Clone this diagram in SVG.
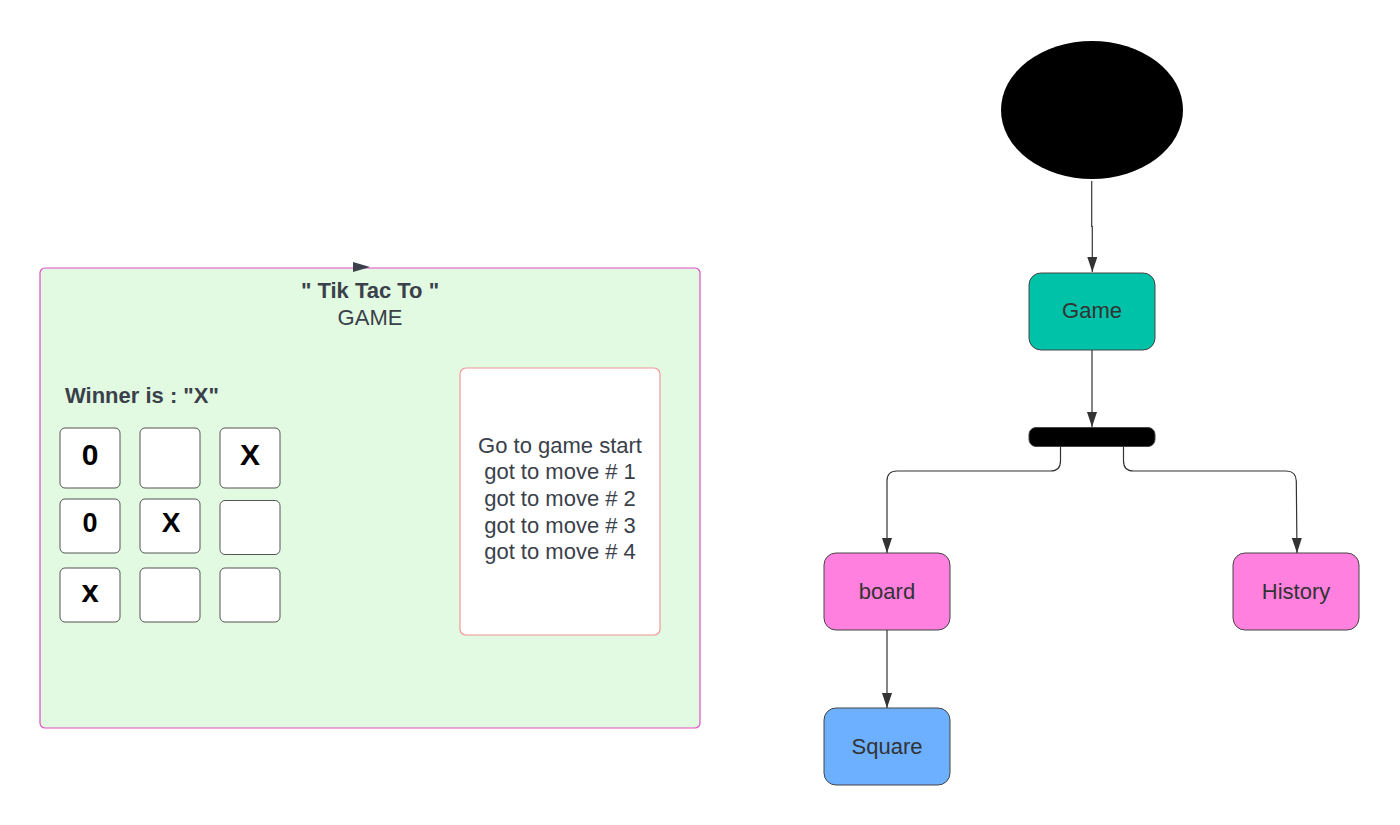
<svg xmlns="http://www.w3.org/2000/svg" width="1400" height="825" viewBox="0 0 1400 825">
<defs>
<style>
text{font-family:"Liberation Sans",Arial,sans-serif}
.node rect{stroke:#444;stroke-width:1}
.lbl{font-size:22px;fill:#333;text-anchor:middle}
.cell{fill:#fff;stroke:#555;stroke-width:1}
.glyph{font-weight:bold;fill:#000;text-anchor:middle}
.conn{fill:none;stroke:#333;stroke-width:1.2}
.pt{fill:#3a414a}
</style>
<marker id="arr" markerWidth="15" markerHeight="10" refX="15" refY="5" viewBox="0 0 15 10" markerUnits="userSpaceOnUse" orient="auto">
<path d="M0,0 L15,5 L0,10 Z" fill="#333"/>
</marker>
</defs>
<rect width="1400" height="825" fill="#fff"/>

<g id="game-panel">
<rect x="40" y="268" width="660" height="460" rx="5" fill="#e2f9e2" stroke="#e04fc6" stroke-width="1.2"/>
<path d="M353,262 L370,267 L353,272 Z" fill="#3a414a"/>
<text class="pt" x="370" y="298" font-size="22" font-weight="bold" text-anchor="middle">" Tik Tac To "</text>
<text class="pt" x="370" y="324.5" font-size="22" text-anchor="middle">GAME</text>
<text class="pt" x="65" y="402.5" font-size="22" font-weight="bold">Winner is : "X"</text>
</g>

<g id="board-grid">
<rect class="cell" x="60" y="428" width="60" height="60" rx="5"/>
<rect class="cell" x="140" y="428" width="60" height="60" rx="5"/>
<rect class="cell" x="220" y="428" width="60" height="60" rx="5"/>
<rect class="cell" x="60" y="499" width="60" height="54" rx="5"/>
<rect class="cell" x="140" y="499" width="60" height="54" rx="5"/>
<rect class="cell" x="220" y="500.5" width="60" height="54" rx="5"/>
<rect class="cell" x="60" y="568" width="60" height="54" rx="5"/>
<rect class="cell" x="140" y="568" width="60" height="54" rx="5"/>
<rect class="cell" x="220" y="568" width="60" height="54" rx="5"/>
<text class="glyph" x="90" y="465" font-size="30">0</text>
<text class="glyph" x="250" y="465" font-size="30">X</text>
<text class="glyph" x="90" y="531.5" font-size="27">0</text>
<text class="glyph" x="171" y="532" font-size="28">X</text>
<text class="glyph" x="90" y="601.5" font-size="31">x</text>
</g>

<g id="history-list">
<rect x="460" y="368" width="200" height="267" rx="6" fill="#fff" stroke="#f29898" stroke-width="1.2"/>
<g class="pt" font-size="22" text-anchor="middle">
<text x="560" y="452.5">Go to game start</text>
<text x="560" y="479.2">got to move # 1</text>
<text x="560" y="506">got to move # 2</text>
<text x="560" y="532.7">got to move # 3</text>
<text x="560" y="559.4">got to move # 4</text>
</g>
</g>

<g id="start">
<ellipse cx="1092" cy="110" rx="91" ry="69" fill="#000"/>
</g>

<g id="game" class="node">
<rect x="1029" y="273" width="126" height="77" rx="12" fill="#00c2a8"/>
<text class="lbl" x="1092" y="318">Game</text>
</g>

<g id="fork">
<rect x="1029" y="427.5" width="126" height="19" rx="7" fill="#000" stroke="#444" stroke-width="1"/>
</g>

<g id="board" class="node">
<rect x="824" y="553" width="126" height="77" rx="12" fill="#ff80df"/>
<text class="lbl" x="887" y="598.5">board</text>
</g>

<g id="history" class="node">
<rect x="1233" y="553" width="126" height="77" rx="12" fill="#ff80df"/>
<text class="lbl" x="1296" y="598.5">History</text>
</g>

<g id="square" class="node">
<rect x="824" y="708" width="126" height="77" rx="12" fill="#6cb0ff"/>
<text class="lbl" x="887" y="753.5">Square</text>
</g>

<g id="connectors">
<path class="conn" d="M1091.7,181 L1091.7,226.5 L1092.3,226.5 L1092.3,272" marker-end="url(#arr)"/>
<path class="conn" d="M1092,350 L1092,427" marker-end="url(#arr)"/>
<path class="conn" d="M1060.5,446.5 L1060.5,461 Q1060.5,471 1050.5,471 L897,471 Q887,471 887,481 L887,553" marker-end="url(#arr)"/>
<path class="conn" d="M1123.5,446.5 L1123.5,461 Q1123.5,471 1133.5,471 L1286,471 Q1296,471 1296.3,481 L1297,553" marker-end="url(#arr)"/>
<path class="conn" d="M887,630 L887,708" marker-end="url(#arr)"/>
</g>
</svg>
